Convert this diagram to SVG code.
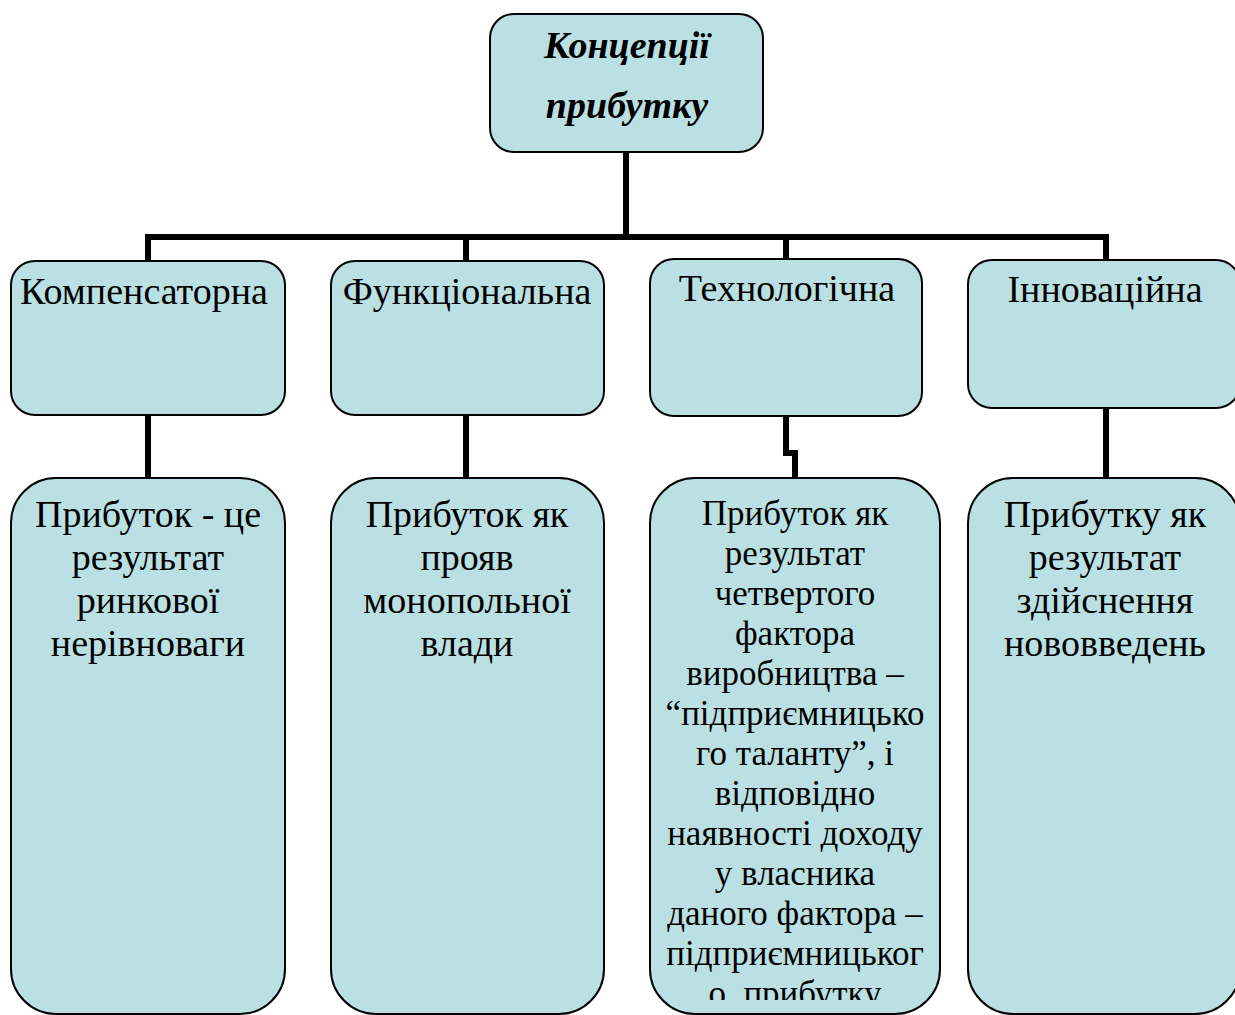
<svg xmlns="http://www.w3.org/2000/svg" width="1235" height="1015" viewBox="0 0 1235 1015" font-family="'Liberation Serif', 'Times New Roman', Times, serif">
  <style>
    .box { fill: #bae0e3; stroke: #000; stroke-width: 2; }
    .wire { fill: none; stroke: #000; stroke-width: 6; stroke-linejoin: miter; }
    .lbl { fill: #000; text-anchor: middle; }
    .title { font-size: 38px; font-weight: bold; font-style: italic; }
    .kind { font-size: 38px; }
    .desc { font-size: 38px; }
    .desc-s { font-size: 35px; }
  </style>
  <defs>
    <clipPath id="tech-clip">
      <rect x="650" y="478" width="290" height="522"/>
    </clipPath>
  </defs>
  <rect width="1235" height="1015" fill="#fff"/>

  <g id="connectors">
    <polyline class="wire" points="626,152 626,236"/>
    <polyline class="wire" points="148,261 148,237 1106,237 1106,261"/>
    <polyline class="wire" points="466,237 466,261"/>
    <polyline class="wire" points="786,237 786,259"/>
    <polyline class="wire" points="148,415 148,478"/>
    <polyline class="wire" points="466,415 466,478"/>
    <polyline class="wire" points="786,416 786,453 795,453 795,478"/>
    <polyline class="wire" points="1106,408 1106,478"/>
  </g>

  <g id="root">
    <rect class="box" x="490" y="14" width="273" height="138" rx="24"/>
    <text class="lbl title" x="627" y="58">Концепції</text>
    <text class="lbl title" x="627" y="118">прибутку</text>
  </g>

  <g id="compensatory">
    <rect class="box" x="11" y="261" width="274" height="154" rx="24"/>
    <text class="lbl kind" x="144" y="304">Компенсаторна</text>
  </g>
  <g id="functional">
    <rect class="box" x="331" y="261" width="273" height="154" rx="24"/>
    <text class="lbl kind" x="467" y="304">Функціональна</text>
  </g>
  <g id="technological">
    <rect class="box" x="650" y="259" width="272" height="157" rx="24"/>
    <text class="lbl kind" x="787" y="301">Технологічна</text>
  </g>
  <g id="innovative">
    <rect class="box" x="968" y="260" width="272" height="148" rx="24"/>
    <text class="lbl kind" x="1105" y="302">Інноваційна</text>
  </g>

  <g id="compensatory-desc">
    <rect class="box" x="11" y="478" width="274" height="536" rx="45"/>
    <text class="lbl desc"><tspan x="148" y="527">Прибуток - це</tspan><tspan x="148" y="570">результат</tspan><tspan x="148" y="613">ринкової</tspan><tspan x="148" y="656">нерівноваги</tspan></text>
  </g>
  <g id="functional-desc">
    <rect class="box" x="331" y="478" width="273" height="536" rx="45"/>
    <text class="lbl desc"><tspan x="467" y="527">Прибуток як</tspan><tspan x="467" y="570">прояв</tspan><tspan x="467" y="613">монопольної</tspan><tspan x="467" y="656">влади</tspan></text>
  </g>
  <g id="technological-desc">
    <rect class="box" x="650" y="478" width="290" height="536" rx="45"/>
    <text class="lbl desc-s" clip-path="url(#tech-clip)"><tspan x="795" y="525">Прибуток як</tspan><tspan x="795" y="565">результат</tspan><tspan x="795" y="605">четвертого</tspan><tspan x="795" y="645">фактора</tspan><tspan x="795" y="685">виробництва –</tspan><tspan x="795" y="725">“підприємницько</tspan><tspan x="795" y="765">го таланту”, і</tspan><tspan x="795" y="805">відповідно</tspan><tspan x="795" y="845">наявності доходу</tspan><tspan x="795" y="885">у власника</tspan><tspan x="795" y="925">даного фактора –</tspan><tspan x="795" y="965">підприємницьког</tspan><tspan x="795" y="1005">о&#160; прибутку</tspan></text>
  </g>
  <g id="innovative-desc">
    <rect class="box" x="968" y="478" width="272" height="536" rx="45"/>
    <text class="lbl desc"><tspan x="1105" y="527">Прибутку як</tspan><tspan x="1105" y="570">результат</tspan><tspan x="1105" y="613">здійснення</tspan><tspan x="1105" y="656">нововведень</tspan></text>
  </g>
</svg>
